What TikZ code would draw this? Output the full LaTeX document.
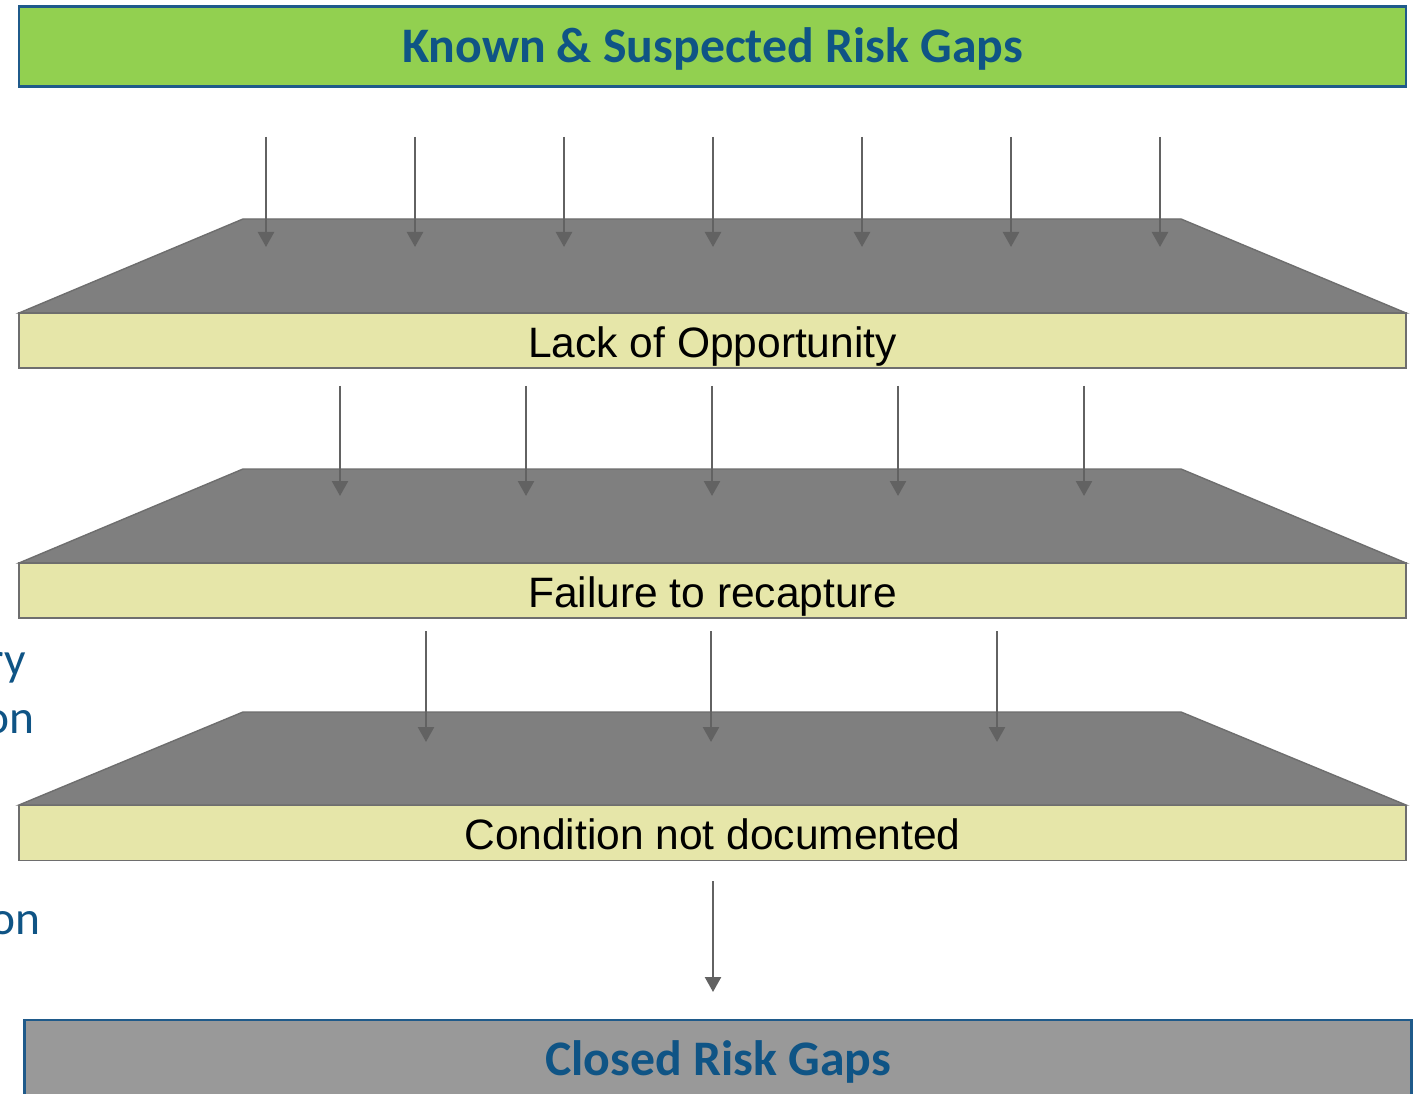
\documentclass[tikz,border=0pt]{standalone}
\usepackage{fontspec}
\setmainfont{Liberation Sans}
\newfontfamily\calibri{Carlito}
\usetikzlibrary{arrows.meta}
\definecolor{bannergreen}{HTML}{92D050}
\definecolor{bannerblue}{HTML}{1F5A8A}
\definecolor{titleblue}{HTML}{0F5485}
\definecolor{funnelgray}{HTML}{7F7F7F}
\definecolor{edgegray}{HTML}{6E6E6E}
\definecolor{barfill}{HTML}{E6E6A9}
\definecolor{arrowgray}{HTML}{626262}
\definecolor{closedgray}{HTML}{999999}
\tikzset{
  banner/.style={draw=bannerblue, line width=1.3pt, inner sep=0pt, minimum width=27.74cm},
  bannertext/.style={text=titleblue, font=\calibri\bfseries\fontsize{28.3}{32}\selectfont,
    text height=20pt, text depth=2pt},
  bartext/.style={draw=edgegray, line width=0.8pt, fill=barfill, inner sep=0pt,
    minimum width=27.74cm, minimum height=1.1cm, font=\fontsize{24.2}{28}\selectfont,
    text height=22pt, text depth=3pt},
  funnel/.style={fill=funnelgray, draw=edgegray, line width=0.8pt},
  flow/.style={draw=arrowgray, line width=1.4pt,
    -{Triangle[width=0.32cm, length=0.3cm]}},
  stray/.style={text=titleblue, font=\calibri\fontsize{27}{30}\selectfont, anchor=base east, inner sep=0pt}
}
\begin{document}
\begin{tikzpicture}[x=0.02cm, y=-0.02cm]
\useasboundingbox (0,0) rectangle (1419,1094);
\clip (0,0) rectangle (1419,1094);
\fill[white] (0,0) rectangle (1419,1094);

% top banner
\node[banner, bannertext, fill=bannergreen, minimum height=1.6cm] (known) at (712.5,46.5) {Known \& Suspected Risk Gaps};

% three funnel stages: trapezoid hopper above a labelled bar
\draw[funnel] (19,313) -- (243,219) -- (1181,219) -- (1406,313) -- cycle;
\node[bartext] (lack) at (712.5,340.5) {Lack of Opportunity};

\draw[funnel] (19,563) -- (243,469) -- (1181,469) -- (1406,563) -- cycle;
\node[bartext] (fail) at (712.5,590.5) {Failure to recapture};

\draw[funnel] (19,805) -- (243,712) -- (1181,712) -- (1406,805) -- cycle;
\node[bartext] (cond) at (712.5,833) {Condition not documented};

% arrows into the first hopper
\foreach \i/\x in {1/266,2/415,3/564,4/713,5/862,6/1011,7/1160}{
  \coordinate (a\i) at (\x,137);
  \coordinate (b\i) at (\x,247);
  \draw[flow] (a\i) -- (b\i);
}
% arrows into the second hopper
\foreach \i/\x in {1/340,2/526,3/712,4/898,5/1084}{
  \coordinate (c\i) at (\x,386);
  \coordinate (d\i) at (\x,496);
  \draw[flow] (c\i) -- (d\i);
}
% arrows into the third hopper
\foreach \i/\x in {1/426,2/711,3/997}{
  \coordinate (e\i) at (\x,631);
  \coordinate (f\i) at (\x,742);
  \draw[flow] (e\i) -- (f\i);
}

% bottom banner, running past the lower edge
\node[banner, fill=closedgray, minimum height=1.9cm, anchor=north] (closed) at (718,1019) {};
\node[bannertext] (closedtext) at (718,1060) {Closed Risk Gaps};
\coordinate (g) at (713,992);
\coordinate (h) at (713,881);
\draw[flow] (h) -- (g);

% text running in from the left edge
\node[stray] (s1) at (26,675) {ry};
\node[stray] (s2) at (35,733) {on};
\node[stray] (s3) at (41,934) {on};
\end{tikzpicture}
\end{document}
